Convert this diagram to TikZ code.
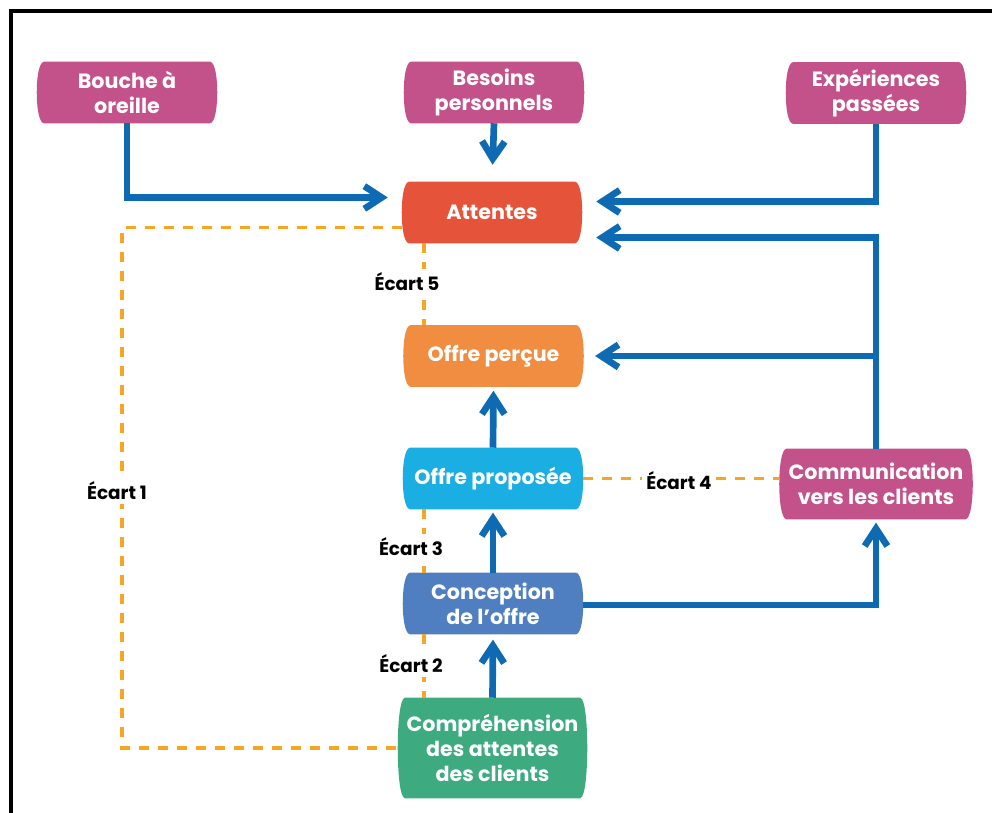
\documentclass[tikz,border=0pt]{standalone}
\usepackage{fontspec}
\setmainfont{Poppins}
\usetikzlibrary{arrows.meta,calc,backgrounds}
\definecolor{mag}{HTML}{C4528A}
\definecolor{attc}{HTML}{E5533A}
\definecolor{perc}{HTML}{F08D40}
\definecolor{proc}{HTML}{1BAEE3}
\definecolor{conc}{HTML}{4F7FC1}
\definecolor{cprc}{HTML}{3DAA7F}
\definecolor{arrowblue}{HTML}{0D6AB3}
\definecolor{gapor}{HTML}{F6A623}
\tikzset{
 box/.style={inner sep=0pt, minimum width=135pt, minimum height=45.75pt, text=white,
   font=\fontsize{15.5}{18.75}\selectfont\bfseries, align=center},
 flow/.style={draw=arrowblue, line width=5pt, line join=miter,
   -{Straight Barb[length=13pt,width=17pt,line join=miter]}},
 gap/.style={draw=gapor, line width=2.6pt, dash pattern=on 7.5pt off 6.75pt},
 gaplabel/.style={fill=white, inner sep=3pt, text=black,
   font=\fontsize{13.8}{16}\selectfont\bfseries}
}
\newcommand\barrelfill[2]{%
 \fill[#2] ($(#1.north west)+(7,0)$) -- ($(#1.north east)+(-7,0)$)
  .. controls ($(#1.north east)+(-2,1)$) and ($(#1.north east)!0.55!(#1.east)$) .. (#1.east)
  .. controls ($(#1.south east)!0.55!(#1.east)$) and ($(#1.south east)+(-2,-1)$) .. ($(#1.south east)+(-7,0)$)
  -- ($(#1.south west)+(7,0)$)
  .. controls ($(#1.south west)+(2,-1)$) and ($(#1.south west)!0.55!(#1.west)$) .. (#1.west)
  .. controls ($(#1.north west)!0.55!(#1.west)$) and ($(#1.north west)+(2,1)$) .. cycle;}
\begin{document}
\begin{tikzpicture}[x=0.75pt,y=-0.75pt]
\useasboundingbox (0,0) rectangle (992,813);
\draw[line width=3.4pt, line join=miter] (11,813) -- (11,11) -- (992,11);

\node[box] (bou) at (127,92.5) {Bouche à\\oreille};
\node[box] (bes) at (494,92.5) {Besoins\\personnels};
\node[box] (exp) at (876,93) {Expériences\\passées};
\node[box] (att) at (492,212.5) {Attentes};
\node[box] (per) at (493.5,356) {Offre perçue};
\node[box] (pro) at (493,478.5) {Offre proposée};
\node[box] (con) at (493,603.5) {Conception\\de l’offre};
\node[box, minimum width=141.75pt, minimum height=75pt] (cpr) at (492.5,748) {Compréhension\\des attentes\\des clients};
\node[box, minimum width=144.75pt, minimum height=52.5pt] (com) at (876,484) {Communication\\vers les clients};

\begin{scope}[on background layer]
\barrelfill{bou}{mag}
\barrelfill{bes}{mag}
\barrelfill{exp}{mag}
\barrelfill{att}{attc}
\barrelfill{per}{perc}
\barrelfill{pro}{proc}
\barrelfill{con}{conc}
\barrelfill{cpr}{cprc}
\barrelfill{com}{mag}
\end{scope}

% flows
\draw[flow, shorten >=10.5pt] (bou.south) |- ($(att.west)+(0,-15)$);
\draw[flow, shorten >=12.75pt] (bes.south) -- (att.north);
\draw[flow, shorten >=10.5pt] (exp.south) |- ($(att.east)+(0,-11)$);
\draw[flow, shorten >=10.5pt] (com.north) |- ($(att.east)+(0,25)$);
\draw[flow, shorten >=8.5pt] (com.north |- per.east) -- (per.east);
\draw[flow, shorten >=3pt] (pro.north) -- (per.south);
\draw[flow, shorten >=2.5pt] (con.north) -- (pro.south);
\draw[flow, shorten >=4pt] (cpr.north) -- (con.south);
\draw[flow, shorten >=2.5pt] ($(con.east)+(0,1.5)$) -| (com.south);

% gaps
\coordinate (gx) at (424,0);
\coordinate (g1) at (122,490);
\draw[gap] (gx |- att.south) -- (gx |- per.north);
\draw[gap] (gx |- pro.south) -- (gx |- con.north);
\draw[gap] (gx |- con.south) -- (gx |- cpr.north);
\draw[gap] ($(att.west)+(0,15)$) -| (g1) |- (cpr.west);
\draw[gap] (pro.east) -- (pro.east -| com.west);

\node[gaplabel] (l5) at (407,282) {Écart 5};
\node[gaplabel] (l1) at (117,491) {Écart 1};
\node[gaplabel] (l4) at (679,481) {Écart 4};
\node[gaplabel] (l3) at (411,547) {Écart 3};
\node[gaplabel] (l2) at (411,664) {Écart 2};
\end{tikzpicture}
\end{document}
